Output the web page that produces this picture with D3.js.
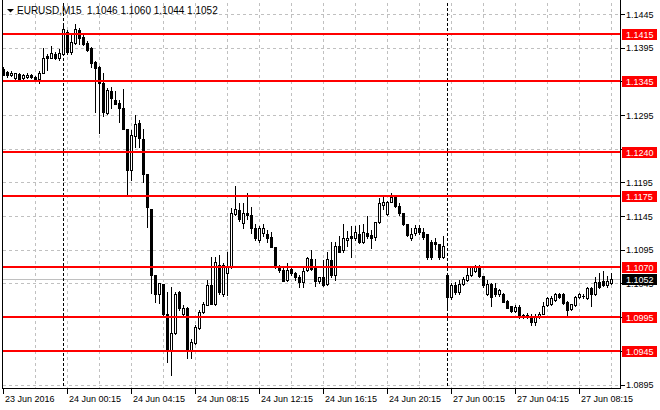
<!DOCTYPE html>
<meta charset="utf-8">
<head>
    <title>EURUSD M15</title>
</head>
<script src="https://d3js.org/d3.v7.min.js"></script>
<style>
    body { margin: 0; background: #fff; }
    text { font-family: "Liberation Sans", Arial, sans-serif; font-size: 9px; fill: #000; }
    .header { font-size: 10px; }
    .grid { stroke: #c0c0c0; stroke-width: 1px; stroke-dasharray: 3,3; fill: none; }
    .sep { stroke: #000; stroke-width: 1px; stroke-dasharray: 3,2; fill: none; }
    .frame { stroke: #000; stroke-width: 1px; fill: none; }
    .level { stroke: #ff0000; stroke-width: 2px; }
    .wick { stroke: #000; stroke-width: 1px; }
</style>
<div id="viz"></div>
<script>
// candle data, one entry per 15 min bar (23 Jun 20:15 .. 27 Jun 10:15)
var opens = [1.1364,1.1359,1.1355,1.1350,1.1356,1.1350,1.1351,1.1355,1.1352,1.1349,
    1.1358,1.1383,1.1380,1.1385,1.1379,1.1385,1.1419,1.1389,1.1402,1.1421,
    1.1411,1.1402,1.1394,1.1374,1.1366,1.1343,1.1298,1.1331,1.1318,1.1313,
    1.1305,1.1274,1.1214,1.1264,1.1283,1.1260,1.1208,1.1156,1.1057,1.1030,
    1.1044,1.1000,1.0945,1.0972,1.1033,1.0999,1.1008,1.0945,1.0956,1.0979,
    1.1003,1.1013,1.1043,1.1015,1.1072,1.1029,1.1061,1.1070,1.1148,1.1154,
    1.1135,1.1150,1.1147,1.1127,1.1110,1.1120,1.1119,1.1114,1.1099,1.1069,
    1.1065,1.1050,1.1067,1.1061,1.1055,1.1047,1.1065,1.1081,1.1070,1.1049,
    1.1055,1.1044,1.1080,1.1058,1.1100,1.1094,1.1109,1.1116,1.1113,1.1119,
    1.1107,1.1120,1.1117,1.1114,1.1136,1.1162,1.1148,1.1166,1.1174,1.1160,
    1.1150,1.1133,1.1113,1.1120,1.1128,1.1121,1.1118,1.1107,1.1107,1.1104,
    1.1085,1.1057,1.1025,1.1043,1.1032,1.1044,1.1050,1.1057,1.1063,1.1069,
    1.1056,1.1029,1.1044,1.1038,1.1029,1.1029,1.1019,1.1012,1.1004,1.1010,
    1.0998,1.0996,1.0995,1.0988,1.0996,1.1000,1.1013,1.1015,1.1021,1.1030,
    1.1030,1.1018,1.1007,1.1013,1.1025,1.1027,1.1024,1.1038,1.1029,1.1047,
    1.1049,1.1042,1.1046];
var highs = [1.1366,1.1361,1.1361,1.1358,1.1357,1.1356,1.1357,1.1356,1.1353,1.1360,
    1.1394,1.1385,1.1398,1.1388,1.1393,1.1428,1.1421,1.1416,1.1430,1.1424,
    1.1414,1.1405,1.1396,1.1375,1.1368,1.1357,1.1335,1.1337,1.1330,1.1317,
    1.1333,1.1274,1.1273,1.1295,1.1287,1.1274,1.1208,1.1156,1.1057,1.1046,
    1.1044,1.1033,1.1039,1.1033,1.1034,1.1013,1.1010,1.0963,1.0984,1.1005,
    1.1017,1.1050,1.1085,1.1085,1.1087,1.1075,1.1092,1.1157,1.1189,1.1164,
    1.1164,1.1180,1.1159,1.1133,1.1131,1.1133,1.1124,1.1122,1.1099,1.1073,
    1.1068,1.1075,1.1070,1.1062,1.1057,1.1070,1.1084,1.1095,1.1082,1.1055,
    1.1080,1.1092,1.1107,1.1107,1.1115,1.1134,1.1123,1.1131,1.1131,1.1132,
    1.1133,1.1145,1.1125,1.1136,1.1172,1.1175,1.1168,1.1180,1.1175,1.1165,
    1.1150,1.1133,1.1127,1.1132,1.1132,1.1128,1.1118,1.1110,1.1112,1.1104,
    1.1115,1.1057,1.1045,1.1047,1.1050,1.1055,1.1068,1.1070,1.1073,1.1073,
    1.1056,1.1050,1.1045,1.1045,1.1037,1.1031,1.1021,1.1012,1.1013,1.1013,
    1.1000,1.1001,1.1000,1.0999,1.1002,1.1017,1.1025,1.1027,1.1031,1.1031,
    1.1031,1.1019,1.1015,1.1026,1.1031,1.1029,1.1039,1.1039,1.1054,1.1060,
    1.1064,1.1056,1.1060];
var lows = [1.1354,1.1351,1.1353,1.1348,1.1348,1.1349,1.1350,1.1350,1.1346,1.1342,
    1.1357,1.1362,1.1379,1.1378,1.1377,1.1384,1.1386,1.1386,1.1400,1.1401,
    1.1399,1.1390,1.1367,1.1300,1.1269,1.1293,1.1296,1.1305,1.1311,1.1285,
    1.1274,1.1178,1.1199,1.1248,1.1248,1.1196,1.1129,1.1031,1.1018,1.1016,
    1.0996,1.0929,1.0909,1.0970,1.1005,1.0997,1.0934,1.0934,1.0955,1.0978,
    1.1001,1.1013,1.1014,1.1013,1.1030,1.1027,1.1028,1.1068,1.1146,1.1138,
    1.1127,1.1140,1.1120,1.1110,1.1106,1.1115,1.1107,1.1099,1.1068,1.1062,
    1.1048,1.1048,1.1058,1.1050,1.1040,1.1040,1.1063,1.1065,1.1041,1.1046,
    1.1041,1.1042,1.1055,1.1050,1.1091,1.1092,1.1100,1.1085,1.1110,1.1105,
    1.1105,1.1112,1.1098,1.1109,1.1135,1.1155,1.1146,1.1166,1.1158,1.1146,
    1.1132,1.1115,1.1110,1.1117,1.1119,1.1111,1.1082,1.1082,1.1096,1.1082,
    1.1083,1.1008,1.1022,1.1030,1.1030,1.1042,1.1049,1.1056,1.1062,1.1054,
    1.1040,1.1028,1.1012,1.1027,1.1027,1.1017,1.1008,1.1003,1.1003,1.0994,
    1.0993,1.0994,1.0983,1.0984,1.0994,1.0999,1.1011,1.1013,1.1019,1.1024,
    1.1014,1.0997,1.1006,1.1012,1.1023,1.1023,1.1022,1.1012,1.1028,1.1038,
    1.1041,1.1040,1.1044];
var closes = [1.1355,1.1354,1.1358,1.1357,1.1349,1.1355,1.1355,1.1351,1.1348,1.1358,
    1.1380,1.1379,1.1387,1.1380,1.1387,1.1423,1.1389,1.1404,1.1423,1.1410,
    1.1401,1.1392,1.1373,1.1365,1.1342,1.1300,1.1332,1.1320,1.1311,1.1305,
    1.1274,1.1213,1.1266,1.1282,1.1261,1.1208,1.1158,1.1057,1.1030,1.1046,
    1.1000,1.0945,1.0972,1.1030,1.1008,1.1009,1.0946,1.0958,1.0981,1.1002,
    1.1015,1.1043,1.1015,1.1077,1.1033,1.1072,1.1070,1.1149,1.1156,1.1140,
    1.1150,1.1146,1.1127,1.1113,1.1127,1.1127,1.1113,1.1099,1.1070,1.1065,
    1.1049,1.1065,1.1061,1.1055,1.1047,1.1064,1.1083,1.1067,1.1049,1.1054,
    1.1043,1.1081,1.1058,1.1100,1.1092,1.1112,1.1113,1.1112,1.1122,1.1107,
    1.1122,1.1116,1.1113,1.1136,1.1164,1.1166,1.1166,1.1174,1.1160,1.1150,
    1.1134,1.1117,1.1118,1.1128,1.1121,1.1114,1.1084,1.1084,1.1103,1.1084,
    1.1101,1.1025,1.1043,1.1032,1.1044,1.1052,1.1057,1.1069,1.1069,1.1056,
    1.1043,1.1044,1.1025,1.1030,1.1036,1.1018,1.1009,1.1004,1.1010,1.0996,
    1.0996,1.0998,1.0988,1.0995,1.1000,1.1011,1.1023,1.1024,1.1030,1.1025,
    1.1016,1.1006,1.1014,1.1025,1.1029,1.1026,1.1038,1.1029,1.1047,1.1040,
    1.1042,1.1049,1.1052];

var timeLabels = ['23 Jun 2016','24 Jun 00:15','24 Jun 04:15','24 Jun 08:15','24 Jun 12:15',
    '24 Jun 16:15','24 Jun 20:15','27 Jun 00:15','27 Jun 04:15','27 Jun 08:15'];
var separators = [15, 111];   // bars at 00:00
var levels = [1.1415, 1.1345, 1.1240, 1.1175, 1.1070, 1.0995, 1.0945];
var priceTicks = [1.1445,1.1395,1.1345,1.1295,1.1245,1.1195,1.1145,1.1095,1.1045,1.0995,1.0945,1.0895];
var bid = 1.1052;
var symbol = 'EURUSD,M15';

var W = 660, H = 410;
var plotRight = 620.5, plotBottom = 388.5;

var svg = d3.select('#viz').append('svg')
    .attr('width', W)
    .attr('height', H)
    .attr('shape-rendering', 'crispEdges');

var n = closes.length;
var x = d3.scaleLinear().domain([0, n - 1]).range([3.5, 3.5 + 4 * (n - 1)]);
var y = d3.scaleLinear().domain([1.0895, 1.1445]).range([384.5, 14]);

// grid
svg.append('g').selectAll('line')
    .data(priceTicks)
    .enter().append('line')
    .attr('class', 'grid')
    .attr('x1', 3).attr('x2', plotRight)
    .attr('y1', function(d) { return Math.round(y(d)) + 0.5; })
    .attr('y2', function(d) { return Math.round(y(d)) + 0.5; });

var vgrid = d3.range(8, n, 8);
svg.append('g').selectAll('line')
    .data(vgrid)
    .enter().append('line')
    .attr('class', 'grid')
    .attr('x1', function(d) { return x(d); }).attr('x2', function(d) { return x(d); })
    .attr('y1', 3).attr('y2', plotBottom);

// bid line
svg.append('line')
    .attr('x1', 3).attr('x2', plotRight)
    .attr('y1', Math.round(y(bid)) + 0.5).attr('y2', Math.round(y(bid)) + 0.5)
    .style('stroke', '#c0c0c0');

// period separators
svg.append('g').selectAll('line')
    .data(separators)
    .enter().append('line')
    .attr('class', 'sep')
    .attr('x1', function(d) { return x(d); }).attr('x2', function(d) { return x(d); })
    .attr('y1', 3).attr('y2', plotBottom);

// candles
var bars = d3.range(n).map(function(i) {
    return {i: i, o: opens[i], h: highs[i], l: lows[i], c: closes[i]};
});
var cg = svg.append('g');
cg.selectAll('.wick')
    .data(bars)
    .enter().append('line')
    .attr('class', 'wick')
    .attr('x1', function(d) { return x(d.i); }).attr('x2', function(d) { return x(d.i); })
    .attr('y1', function(d) { return Math.round(y(d.h)); })
    .attr('y2', function(d) { return Math.round(y(d.l)) + 1; });

cg.selectAll('.bear')
    .data(bars.filter(function(d) { return d.c < d.o; }))
    .enter().append('rect')
    .attr('x', function(d) { return x(d.i) - 1.5; })
    .attr('width', 3)
    .attr('y', function(d) { return Math.round(y(d.o)); })
    .attr('height', function(d) { return Math.max(1, Math.round(y(d.c)) - Math.round(y(d.o)) + 1); })
    .style('fill', '#000');

cg.selectAll('.bull')
    .data(bars.filter(function(d) { return d.c >= d.o; }))
    .enter().append('rect')
    .attr('x', function(d) { return x(d.i) - 1; })
    .attr('width', 2)
    .attr('y', function(d) { return Math.round(y(d.c)) + 0.5; })
    .attr('height', function(d) { return Math.max(1, Math.round(y(d.o)) - Math.round(y(d.c))); })
    .style('fill', '#fff')
    .style('stroke', '#000')
    .attr('shape-rendering', 'auto');

// horizontal levels
svg.append('g').selectAll('line')
    .data(levels)
    .enter().append('line')
    .attr('class', 'level')
    .attr('x1', 3).attr('x2', plotRight)
    .attr('y1', function(d) { return Math.round(y(d)); })
    .attr('y2', function(d) { return Math.round(y(d)); });

// frame
svg.append('path')
    .attr('class', 'frame')
    .attr('d', 'M2.5,0V' + plotBottom + 'H' + plotRight + 'V0');

// price axis
var shown = priceTicks.filter(function(p) {
    return !levels.some(function(l) { return Math.abs(l - p) < 0.0006; });
});
var pa = svg.append('g');
pa.selectAll('line')
    .data(priceTicks)
    .enter().append('line')
    .attr('x1', plotRight).attr('x2', plotRight + 4)
    .attr('y1', function(d) { return Math.round(y(d)) + 0.5; })
    .attr('y2', function(d) { return Math.round(y(d)) + 0.5; })
    .style('stroke', '#000');
pa.selectAll('text')
    .data(shown)
    .enter().append('text')
    .attr('x', 626)
    .attr('y', function(d) { return y(d) + 3.5; })
    .text(function(d) { return d.toFixed(4); });

// level labels
var tags = levels.map(function(l) { return {v: l, fill: '#ff0000'}; });
tags.push({v: bid, fill: '#000'});
var tg = svg.append('g').selectAll('g')
    .data(tags)
    .enter().append('g');
tg.append('rect')
    .attr('x', 622).attr('width', 35)
    .attr('y', function(d) { return Math.round(y(d.v)) - 5.5; })
    .attr('height', 11)
    .style('fill', function(d) { return d.fill; });
tg.append('text')
    .attr('x', 626)
    .attr('y', function(d) { return Math.round(y(d.v)) + 3.5; })
    .style('fill', '#fff')
    .text(function(d) { return d.v.toFixed(4); });

// time axis
var ta = svg.append('g').selectAll('g')
    .data(timeLabels)
    .enter().append('g')
    .attr('transform', function(d, k) { return 'translate(' + x(k * 16) + ',0)'; });
ta.append('line')
    .attr('x1', 0).attr('x2', 0)
    .attr('y1', plotBottom).attr('y2', plotBottom + 5)
    .style('stroke', '#000');
ta.append('text')
    .attr('x', 1.5)
    .attr('y', 402)
    .text(function(d) { return d; });

// header
svg.append('path')
    .attr('d', 'M7,9H14L10.5,12.5Z')
    .attr('shape-rendering', 'auto')
    .style('fill', '#000');
svg.append('text')
    .attr('class', 'header')
    .attr('x', 17)
    .attr('y', 14)
    .attr('xml:space', 'preserve')
    .style('white-space', 'pre')
    .text(symbol + '  ' + [opens[n - 1], highs[n - 1], lows[n - 1], closes[n - 1]].map(function(v) { return v.toFixed(4); }).join(' '));
</script>
